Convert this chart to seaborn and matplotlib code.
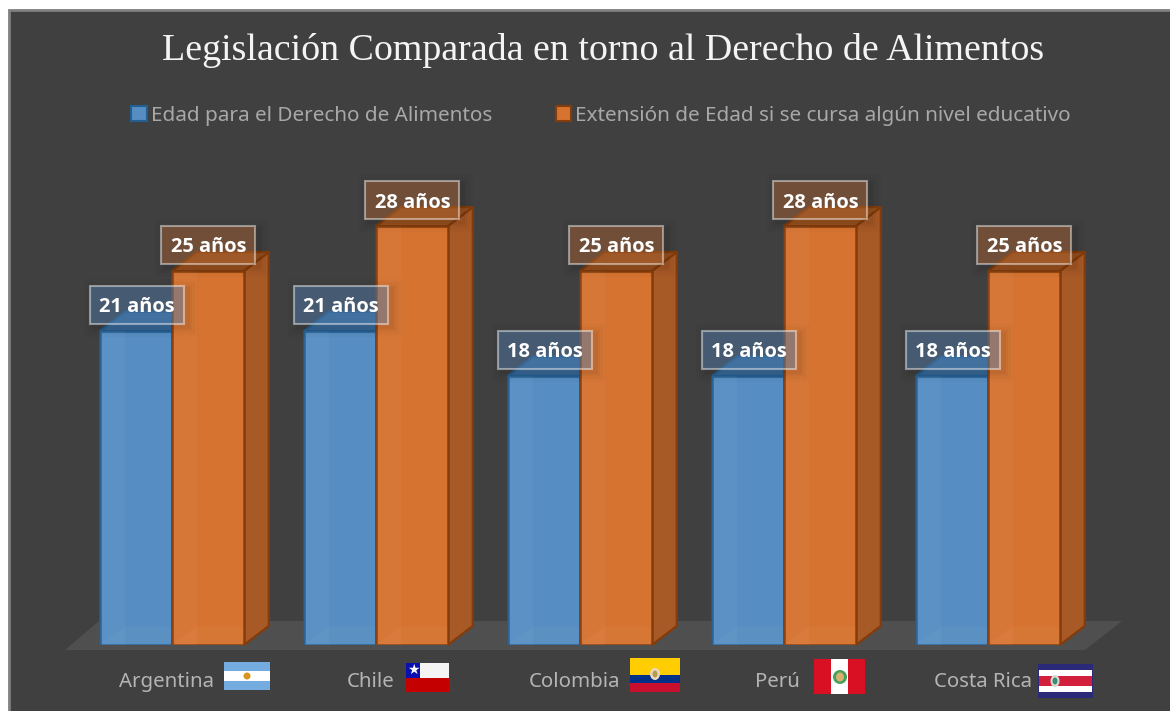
import pandas as pd
import matplotlib
matplotlib.use("Agg")
import matplotlib.pyplot as plt
from matplotlib.patches import Polygon, Rectangle, Ellipse
from matplotlib.transforms import ScaledTranslation
import seaborn as sns

W, H = 1170, 711

paises = ["Argentina", "Chile", "Colombia", "Perú", "Costa Rica"]
edad = [21, 21, 18, 18, 18]
extension = [25, 28, 25, 28, 25]
serie_edad = "Edad para el Derecho de Alimentos"
serie_ext = "Extensión de Edad si se cursa algún nivel educativo"
titulo = "Legislación Comparada en torno al Derecho de Alimentos"

BG = "#404040"
BLUE, BLUE_EDGE, BLUE_TOP = "#568dc2", "#255e91", "#3a6a98"
ORANGE, ORANGE_EDGE, ORANGE_SIDE, ORANGE_TOP = "#d67330", "#843c0c", "#a85a26", "#9a5220"


def px(x, y):
    # figure fraction from picture pixels
    return x / W, 1 - y / H


def add_px(fig, kind, xy, **kw):
    pts = [px(*p) for p in xy]
    fig.add_artist(kind(pts, closed=True, transform=fig.transFigure, **kw))


def rect_px(fig, x0, y0, x1, y1, color, z=2):
    fig.add_artist(Rectangle(px(x0, y1), (x1 - x0) / W, (y1 - y0) / H, transform=fig.transFigure,
                             fc=color, ec="none", zorder=z))


def dot(fig, x, y, w, h, color, z=6):
    fig.add_artist(Ellipse(px(x, y), w / W, h / H, transform=fig.transFigure, fc=color, ec="none", zorder=z))


def flags(fig):
    # Argentina
    rect_px(fig, 224, 662, 270, 690, "#74acdf")
    rect_px(fig, 224, 671, 270, 681, "white", 3)
    dot(fig, 247, 676, 7, 7, "#d9961f")
    # Chile
    rect_px(fig, 406, 663, 449, 678, "#f4f4f4")
    rect_px(fig, 406, 678, 449, 692, "#c40000")
    rect_px(fig, 406, 663, 420, 678, "#0a10b0", 3)
    fig.text(*px(413, 670.5), "★", color="white", fontsize=10, ha="center", va="center", zorder=5)
    # Colombia
    rect_px(fig, 630, 658, 680, 675, "#ffcd00")
    rect_px(fig, 630, 675, 680, 683, "#003087", 3)
    rect_px(fig, 630, 683, 680, 692, "#c8102e", 3)
    dot(fig, 655, 674, 10, 12, "#e9d9c4")
    dot(fig, 655, 674, 5, 7, "#b89a4a", 7)
    # Peru
    rect_px(fig, 814, 659, 865, 694, "#d91023")
    rect_px(fig, 831, 659, 848, 694, "white", 3)
    dot(fig, 840, 677, 14, 14, "#4aa05a")
    dot(fig, 840, 677, 8, 9, "#d8b070", 7)
    # Costa Rica
    rect_px(fig, 1038, 664, 1093, 698, "#2a2a78")
    rect_px(fig, 1039, 670, 1092, 692, "white", 3)
    rect_px(fig, 1039, 676, 1092, 686, "#d21f3c", 4)
    dot(fig, 1055, 681, 9, 12, "#d8dccc")
    dot(fig, 1055, 681, 5, 7, "#3e8a78", 7)


def extrude(ax, bar, side, top, edge, z, dx, dy):
    x0, x1, y1 = bar.get_x(), bar.get_x() + bar.get_width(), bar.get_height()
    ax.add_patch(Polygon([(x1, 0), (x1 + dx, dy), (x1 + dx, y1 + dy), (x1, y1)],
                         fc=side, ec=edge, lw=1.6, zorder=z, clip_on=False))
    ax.add_patch(Polygon([(x0, y1), (x0 + dx, y1 + dy), (x1 + dx, y1 + dy), (x1, y1)],
                         fc=top, ec=edge, lw=1.6, zorder=z, clip_on=False))
    # inner edges seen through the front face
    ax.add_patch(Rectangle((x0, 0), dx, y1, fc="white", alpha=0.035, ec="none", zorder=z + 2))
    ax.add_patch(Polygon([(x0, 0), (x0 + dx, dy), (x1, dy), (x1, 0)], fc="white", alpha=0.03,
                         ec="none", zorder=z + 2))


def main():
    sns.set_theme(style="dark", rc={"axes.facecolor": "none", "figure.facecolor": "white"})
    plt.rcParams["font.family"] = ["Noto Sans", "DejaVu Sans"]

    df = pd.DataFrame({"pais": paises * 2,
                       "edad": edad + extension,
                       "serie": [serie_edad] * 5 + [serie_ext] * 5})

    fig = plt.figure(figsize=(W / 100, H / 100), dpi=100)
    # panel runs off the right and bottom of the picture
    fig.add_artist(Rectangle(px(9, H + 10), 1.1, (H + 10 - 10) / H, transform=fig.transFigure,
                             fc=BG, ec="#7f7f7f", lw=2, zorder=-5))
    add_px(fig, Polygon, [(65, 650), (99, 621), (1122, 621), (1085, 650)], fc="#504f4f", ec="none", zorder=-4)

    ax = fig.add_axes([70 / W, (H - 645) / H, 1020 / W, 495 / H])
    sns.barplot(data=df, x="pais", y="edad", hue="serie", palette=[BLUE, ORANGE],
                width=143.5 / 204, gap=0, saturation=1, ax=ax, zorder=2)
    ax.set_xlim(-0.5, 4.5)
    ax.set_ylim(0, 495 / 14.96)
    dx, dy = 25 / 204, 19 / 14.96

    for i, (cont, side, top, edge) in enumerate(zip(ax.containers, [BLUE_TOP, ORANGE_SIDE],
                                                    [BLUE_TOP, ORANGE_TOP], [BLUE_EDGE, ORANGE_EDGE])):
        z = 2 + i * 4
        for bar in cont:
            bar.set(edgecolor=edge, linewidth=1.8, zorder=z + 1)
            extrude(ax, bar, side, top, edge, z, dx, dy)

    # value labels with soft shadow
    for i, (cont, fc) in enumerate(zip(ax.containers, ["#5b8fc2", "#c0703a"])):
        for bar in cont:
            xc = bar.get_x() + bar.get_width() / 2 + 0.5 / 204
            yc = bar.get_height() + 26 / 14.96
            bw, bh = 94 / 204, 38 / 14.96
            for k, a in [(10, 0.015), (7, 0.025), (4, 0.03), (2, 0.04)]:
                ax.add_patch(Rectangle((xc - bw / 2 - (k - 4) / 204, yc - bh / 2 - (k + 3) / 14.96),
                                       bw + 2 * k / 204, bh + 2 * k / 14.96,
                                       fc="black", alpha=a, ec="none", zorder=12, clip_on=False))
            ax.add_patch(Rectangle((xc - bw / 2, yc - bh / 2), bw, bh, fc=fc, alpha=0.42,
                                   ec="none", zorder=13, clip_on=False))
            ax.add_patch(Rectangle((xc - bw / 2, yc - bh / 2), bw, bh, fc="none",
                                   ec=(1, 1, 1, 0.45), lw=1.5, zorder=14, clip_on=False))
            ax.text(xc, yc - 2.5 / 14.96, f"{bar.get_height():.0f} años", ha="center", va="center", color="white",
                    fontsize=14.4, fontweight="bold", zorder=15, family="Open Sans")

    # axes dressing
    ax.set_xlabel("")
    ax.set_ylabel("")
    ax.set_yticks([])
    ax.grid(False)
    sns.despine(ax=ax, left=True, bottom=True)
    ax.tick_params(axis="x", length=0, pad=19.5, labelsize=14.7, colors="#b4b4b4")
    # labels end just left of their flag
    right_edge = [215, 395, 621, 801, 1033]
    centers = [173, 377, 581, 785, 989]
    for lab, r, c in zip(ax.get_xticklabels(), right_edge, centers):
        lab.set_ha("right")
        lab.set_transform(lab.get_transform() + ScaledTranslation((r - c) / 100, 0, fig.dpi_scale_trans))

    leg = ax.legend(loc="center left", bbox_to_anchor=(121 / W, 1 - 116 / H), bbox_transform=fig.transFigure,
                    ncols=2, frameon=False, fontsize=14.9, handlelength=0.75, handleheight=0.75,
                    handletextpad=0.2, columnspacing=3.07, borderpad=0, labelcolor="#a8a8a8")
    for h, e in zip(leg.get_patches(), [BLUE_EDGE, ORANGE_EDGE]):
        h.set(edgecolor=e, linewidth=1.5)

    fig.text(603 / W, 1 - 60 / H, titulo, ha="center", va="baseline", color="#f4f4f4",
             fontsize=27.3, family="Liberation Serif")
    flags(fig)
    fig.savefig("out.png", dpi=100)
    plt.close()


if __name__ == "__main__":
    main()
